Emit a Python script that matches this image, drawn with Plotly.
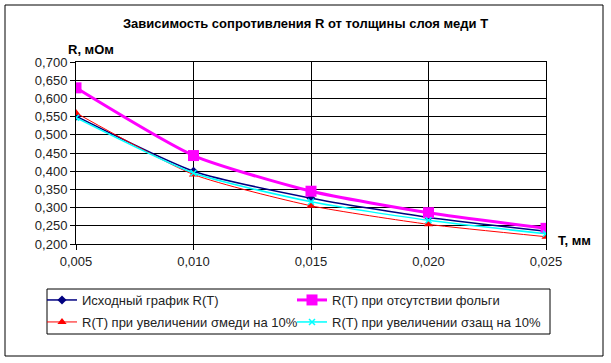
import plotly.graph_objects as go

T = [0.005, 0.010, 0.015, 0.020, 0.025]
r_base = [0.551, 0.400, 0.326, 0.273, 0.235]
r_nofoil = [0.629, 0.443, 0.345, 0.286, 0.243]
r_cu = [0.560, 0.391, 0.305, 0.254, 0.220]
r_prot = [0.547, 0.395, 0.316, 0.265, 0.228]

names = ["Исходный график R(T)", "R(T) при отсутствии фольги",
         "R(T) при увеличении σмеди на 10%", "R(T) при увеличении σзащ на 10%"]

FONT = "Liberation Sans, Arial, sans-serif"
W, H = 611, 363
L, R, TOP, B = 76, 546, 62, 244
SMOOTH = 0.6


def fx(x):
    return x / W


def fy(y):
    return 1 - y / H


fig = go.Figure()
fig.add_trace(go.Scatter(x=T, y=r_base, name=names[0], mode="lines+markers",
                         legend="legend",
                         line=dict(color="#000080", width=1.5, shape="spline", smoothing=SMOOTH),
                         marker=dict(symbol="diamond", size=7, color="#000080")))
fig.add_trace(go.Scatter(x=T, y=r_nofoil, name=names[1], mode="lines+markers",
                         legend="legend",
                         line=dict(color="#ff00ff", width=3, shape="spline", smoothing=SMOOTH),
                         marker=dict(symbol="square", size=11, color="#ff00ff")))
fig.add_trace(go.Scatter(x=T, y=r_cu, name=names[2], mode="lines+markers",
                         legend="legend2",
                         line=dict(color="#ff0000", width=1, shape="spline", smoothing=SMOOTH),
                         marker=dict(symbol="triangle-up", size=8, color="#ff0000")))
fig.add_trace(go.Scatter(x=T, y=r_prot, name=names[3], mode="lines+markers",
                         legend="legend2",
                         line=dict(color="#00ffff", width=1.5, shape="spline", smoothing=SMOOTH),
                         marker=dict(symbol="x-thin-open", size=6, color="#00ffff",
                                     line=dict(color="#00ffff", width=1.5))))

axis_common = dict(showgrid=True, gridcolor="black", gridwidth=1,
                   showline=True, linecolor="black", linewidth=1, mirror=True,
                   ticks="outside", ticklen=5, tickcolor="black", zeroline=False,
                   tickfont=dict(size=13, family=FONT, color="#222"))

leg_common = dict(orientation="h", xanchor="left", yanchor="middle",
                  borderwidth=0, bgcolor="rgba(0,0,0,0)",
                  entrywidth=205, entrywidthmode="pixels",
                  font=dict(size=13, family=FONT, color="#222"), itemwidth=30)

fig.update_layout(
    width=W, height=H,
    autosize=False,
    margin=dict(l=0, r=0, t=0, b=0, autoexpand=False),
    paper_bgcolor="white", plot_bgcolor="white",
    separators=", ",
    font=dict(family=FONT, size=13, color="#222"),
    title=dict(text="<b>Зависимость сопротивления R от толщины слоя меди T</b>",
               x=0.5, xanchor="center", y=fy(23), yanchor="middle",
               font=dict(size=13, family=FONT, color="black")),
    xaxis=dict(domain=[fx(L), fx(R)], range=[0.005, 0.025], dtick=0.005,
               tick0=0.005, tickformat=".3f", automargin=False, **axis_common),
    yaxis=dict(domain=[fy(B), fy(TOP)], range=[0.2, 0.7], dtick=0.05,
               tick0=0.2, tickformat=".3f", automargin=False, **axis_common),
    showlegend=True,
    legend=dict(x=fx(42), y=fy(300), **leg_common),
    legend2=dict(x=fx(42), y=fy(322), **leg_common),
)

fig.add_annotation(text="<b>R, мОм</b>", xref="paper", yref="paper",
                   x=fx(66), y=fy(49), xanchor="left", yanchor="middle",
                   showarrow=False, font=dict(size=13, family=FONT, color="black"))
fig.add_annotation(text="<b>T, мм</b>", xref="paper", yref="paper",
                   x=fx(556), y=fy(240), xanchor="left", yanchor="middle",
                   showarrow=False, font=dict(size=13, family=FONT, color="black"))

# outer chart border
fig.add_shape(type="rect", xref="paper", yref="paper",
              x0=fx(5), x1=fx(603), y0=fy(356), y1=fy(5),
              line=dict(color="black", width=1), layer="below")
# legend box
fig.add_shape(type="rect", xref="paper", yref="paper",
              x0=fx(47), x1=fx(550), y0=fy(334), y1=fy(289),
              line=dict(color="black", width=1), fillcolor="white", layer="below")

fig.write_html("out.html", config={"displayModeBar": False},
               post_script="document.body.style.margin='0';document.body.style.padding='0';")
